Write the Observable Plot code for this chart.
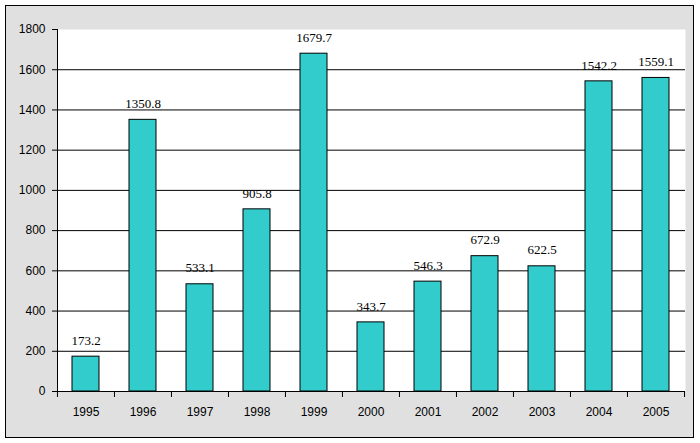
<!DOCTYPE html>
<html>
<head>
<meta charset="utf-8">
<script src="https://cdn.jsdelivr.net/npm/d3@7"></script>
<script src="https://cdn.jsdelivr.net/npm/@observablehq/plot@0.6"></script>
<style>
  html, body { margin: 0; padding: 0; background: #ffffff; }
  #wrap { position: relative; width: 700px; height: 443px; }
  #panel { position: absolute; left: 5px; top: 5px; width: 687px; height: 431px; background: #e0e0e0; border: 1px solid #000; }
  #chart { position: absolute; left: 0; top: 0; }
</style>
</head>
<body>
<div id="wrap"><div id="panel"></div><div id="chart"></div></div>
<script>
const years = ["1995","1996","1997","1998","1999","2000","2001","2002","2003","2004","2005"];
const values = [173.2, 1350.8, 533.1, 905.8, 1679.7, 343.7, 546.3, 672.9, 622.5, 1542.2, 1559.1];
const yTicks = [0, 200, 400, 600, 800, 1000, 1200, 1400, 1600, 1800];
const gridTicks = [200, 400, 600, 800, 1000, 1200, 1400, 1600];

const data = years.map((y, i) => ({year: y, value: values[i]}));

const W = 700, H = 443, mL = 57, mR = 15, mT = 29, mB = 52;
const step = (W - mL - mR) / years.length;

const chart = Plot.plot({
  width: W,
  height: H,
  marginLeft: mL,
  marginRight: mR,
  marginTop: mT,
  marginBottom: mB,
  style: {background: "transparent", fontFamily: "Liberation Sans, sans-serif", fontSize: "12px", color: "#000"},
  x: {type: "band", domain: years, paddingInner: 0.524, paddingOuter: 0.262},
  y: {domain: [0, 1800]},
  marks: [
    Plot.frame({fill: "white", stroke: "none"}),
    Plot.gridY(gridTicks, {stroke: "#000", strokeOpacity: 1}),
    Plot.barY(data, {x: "year", y: "value", fill: "#33cccc", stroke: "#000", strokeWidth: 1}),
    Plot.text(data, {x: "year", y: "value", text: d => d.value.toFixed(1), dy: -16, fontFamily: "Liberation Serif, serif", fontSize: 13, fill: "#000"}),
    Plot.axisY({ticks: yTicks, tickFormat: d => String(d), tickSize: 5, tickPadding: 7, label: null, stroke: "#000", fill: "#000"}),
    Plot.axisX({tickSize: 0, tickPadding: 16, label: null, fill: "#000"}),
    Plot.axisX({tickSize: 6, dx: -step / 2, text: null, label: null, stroke: "#000"}),
    Plot.axisX({ticks: [years[years.length - 1]], tickSize: 6, dx: step / 2, text: null, label: null, stroke: "#000"}),
    Plot.frame({anchor: "left", stroke: "#000"}),
    Plot.ruleY([0], {stroke: "#000"})
  ]
});
document.getElementById("chart").appendChild(chart);
</script>
</body>
</html>
